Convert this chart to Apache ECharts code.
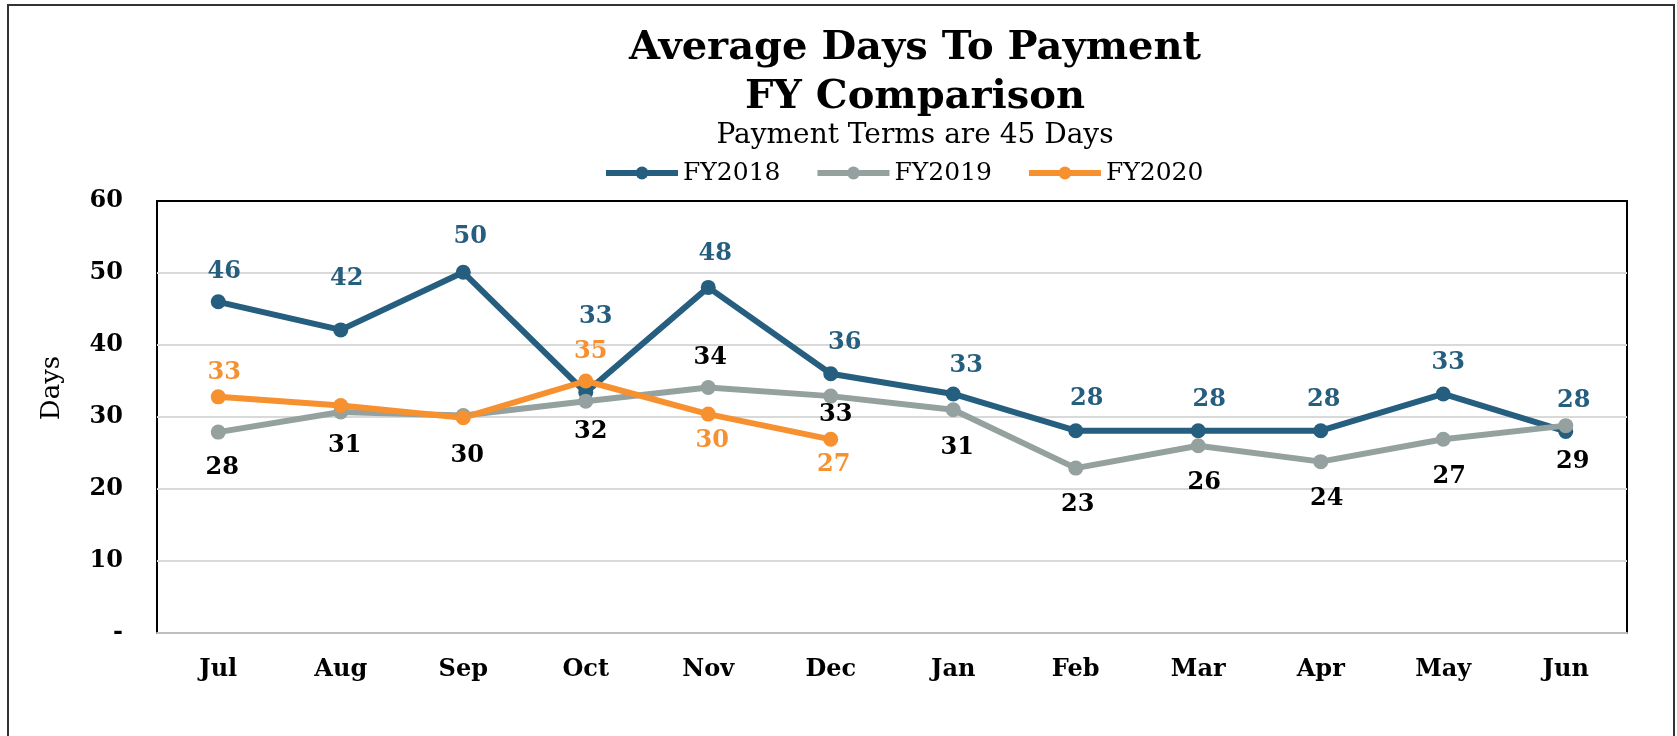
<!DOCTYPE html>
<html>
<head>
<meta charset="utf-8">
<script src="https://cdn.jsdelivr.net/npm/echarts@6/dist/echarts.min.js"></script>
<style>
  html, body { margin: 0; padding: 0; background: #fff; overflow: hidden; }
  #chart { position: absolute; left: 0; top: 0; width: 1677px; height: 736px; }
  #frame { position: absolute; left: 7px; top: 4px; right: 2px; height: 800px;
           border: 2px solid #333; box-sizing: border-box; pointer-events: none; }
</style>
</head>
<body>
<div id="chart"></div>
<div id="frame"></div>
<script>
// ---- data ----
const categories = ['Jul','Aug','Sep','Oct','Nov','Dec','Jan','Feb','Mar','Apr','May','Jun'];
const fy2018 = [46.0, 42.1, 50.1, 33.4, 48.0, 36.0, 33.2, 28.1, 28.1, 28.1, 33.2, 28.0];
const fy2019 = [27.9, 30.7, 30.2, 32.2, 34.1, 32.9, 31.0, 22.9, 26.0, 23.8, 26.9, 28.8];
const fy2020 = [32.8, 31.6, 29.9, 35.0, 30.4, 26.9, null, null, null, null, null, null];
const seriesNames = ['FY2018', 'FY2019', 'FY2020'];
const yTicks = [0, 10, 20, 30, 40, 50, 60];

// ---- label placement (style config) ----
const labelPlacement = {
  FY2018: { dx: [6,6,7,10,7,14,13,11,11,3,5,8],
            dy: [-30,-51,-36,-76,-34,-31,-28,-32,-31,-31,-31,-31],
            show: [1,1,1,1,1,1,1,1,1,1,1,1] },
  FY2019: { dx: [4,4,4,5,2,5,4,2,6,6,6,7],
            dy: [36,34,40,31,-30,19,38,37,37,37,37,36],
            show: [1,1,1,1,1,1,1,1,1,1,1,1] },
  FY2020: { dx: [6,0,0,5,4,3,0,0,0,0,0,0],
            dy: [-24,0,0,-29,27,25,0,0,0,0,0,0],
            show: [1,0,0,1,1,1,0,0,0,0,0,0] }
};
const colors = { FY2018: '#255E7E', FY2019: '#95A19F', FY2020: '#F7902F' };
const labelColors = { FY2018: '#255E7E', FY2019: '#000000', FY2020: '#F7902F' };
const FONT = 'DejaVu Serif';

function buildSeries(name, values) {
  const p = labelPlacement[name];
  return {
    name: name,
    type: 'line',
    data: values.map((v, i) => ({
      value: v,
      label: { show: !!p.show[i] && v != null, offset: [p.dx[i], p.dy[i]] }
    })),
    symbol: 'circle',
    symbolSize: 15,
    connectNulls: false,
    lineStyle: { width: 6, color: colors[name] },
    itemStyle: { color: colors[name] },
    label: {
      position: 'inside',
      formatter: (d) => Math.round(d.value),
      fontFamily: FONT, fontWeight: 'bold', fontSize: 24,
      color: labelColors[name]
    },
    emphasis: { disabled: true },
    animation: false
  };
}

const chart = echarts.init(document.getElementById('chart'), null, { renderer: 'canvas' });
chart.setOption({
  backgroundColor: 'transparent',
  animation: false,
  title: [
    { text: 'Average Days To Payment\nFY Comparison', left: 910, top: 19, textAlign: 'center',
      textStyle: { fontFamily: FONT, fontWeight: 'bold', fontSize: 40, lineHeight: 49, color: '#000' } },
    { text: 'Payment Terms are 45 Days', left: 910, top: 116, textAlign: 'center',
      textStyle: { fontFamily: FONT, fontWeight: 'normal', fontSize: 28, lineHeight: 30, color: '#000' } }
  ],
  legend: {
    data: seriesNames,
    left: 598, top: 155,
    itemWidth: 72, itemHeight: 16, itemGap: 34,
    lineStyle: { width: 6 },
    textStyle: { fontFamily: FONT, fontSize: 25, color: '#000', lineHeight: 26 }
  },
  grid: {
    left: 157, right: 50, top: 201, bottom: 103,
    show: true, borderColor: '#000', borderWidth: 2, containLabel: false
  },
  xAxis: [
    {
      type: 'category', data: categories, boundaryGap: true,
      axisTick: { show: false },
      axisLine: { show: true, lineStyle: { color: '#bfbfbf', width: 2 } },
      axisLabel: { fontFamily: FONT, fontWeight: 'bold', fontSize: 24, color: '#000', margin: 25 }
    },
    {
      type: 'category', data: categories, position: 'top', z: 5,
      axisTick: { show: false }, axisLabel: { show: false }, splitLine: { show: false },
      axisLine: { show: true, lineStyle: { color: '#000', width: 2 } }
    }
  ],
  yAxis: {
    type: 'value', min: yTicks[0], max: yTicks[yTicks.length - 1], interval: 10,
    name: 'Days', nameLocation: 'middle', nameGap: 92,
    nameTextStyle: { fontFamily: FONT, fontSize: 26, color: '#000', padding: [0, 0, 0, 58] },
    axisLine: { show: false }, axisTick: { show: false },
    axisLabel: { fontFamily: FONT, fontWeight: 'bold', fontSize: 24, color: '#000', margin: 34,
                 formatter: (v) => v === 0 ? '-' : String(v) },
    splitLine: { show: true, lineStyle: { color: '#d9d9d9', width: 2 } }
  },
  series: [
    buildSeries('FY2018', fy2018),
    buildSeries('FY2019', fy2019),
    buildSeries('FY2020', fy2020)
  ]
});
</script>
</body>
</html>
